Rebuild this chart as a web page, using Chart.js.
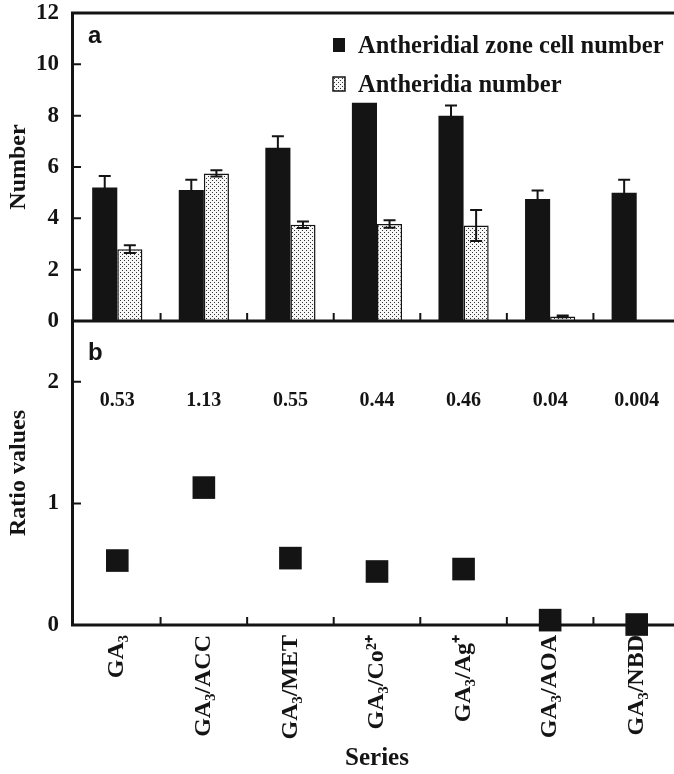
<!DOCTYPE html>
<html>
<head>
<meta charset="utf-8">
<script src="https://cdn.jsdelivr.net/npm/chart.js@4.4.1/dist/chart.umd.min.js"></script>
<style>
  html, body { margin: 0; padding: 0; overflow: hidden; background: #fff; width: 674px; height: 774px; }
  #wrap { position: relative; width: 696px; height: 774px; }
  #top { position: absolute; left: 0; top: 0; }
  #bottom { position: absolute; left: 0; top: 300px; }
</style>
</head>
<body>
<div id="wrap">
  <canvas id="top" width="684" height="340"></canvas>
  <canvas id="bottom" width="696" height="474"></canvas>
</div>
<script>
// data
const categories = ['GA₃', 'GA₃/ACC', 'GA₃/MET', 'GA₃/Co²⁺', 'GA₃/Ag⁺', 'GA₃/AOA', 'GA₃/NBD'];
const zoneCells = [5.2, 5.1, 6.75, 8.5, 8.0, 4.75, 5.0];
const zoneCellsErr = [0.45, 0.4, 0.45, 0, 0.4, 0.33, 0.5];
const antheridia = [2.8, 5.75, 3.75, 3.78, 3.72, 0.18, 0.02];
const antheridiaErr = [0.15, 0.12, 0.13, 0.15, 0.6, 0.03, 0];
const ratios = [0.53, 1.13, 0.55, 0.44, 0.46, 0.04, 0.004];
const ratioLabels = ['0.53', '1.13', '0.55', '0.44', '0.46', '0.04', '0.004'];
const numberTicks = [0, 2, 4, 6, 8, 10, 12];
const ratioTicks = [0, 1, 2];

const serif = "'Liberation Serif', 'Times New Roman', serif";
const sans = "'Liberation Sans', Arial, sans-serif";
const dark = '#141414';

Chart.defaults.font.family = serif;
Chart.defaults.font.weight = 'bold';
Chart.defaults.color = dark;

function dotPattern(ctx) {
  const c = document.createElement('canvas');
  c.width = 4; c.height = 4;
  const g = c.getContext('2d');
  g.fillStyle = '#f7f7f7';
  g.fillRect(0, 0, 4, 4);
  g.fillStyle = '#333';
  g.fillRect(0, 0, 1, 1);
  g.fillRect(2, 2, 1, 1);
  return ctx.createPattern(c, 'repeat');
}

// keep the plot areas where the figure has them
function fixY(s) {
  s.width = 74;
  s.paddingTop = 0;
  s.paddingBottom = 0;
}

// axis lines, inward ticks, panel letter
const framePlugin = {
  id: 'frame',
  afterDraw(chart, args, opts) {
    const { ctx, chartArea: a, scales } = chart;
    ctx.save();
    ctx.strokeStyle = dark;
    ctx.lineWidth = 3;
    ctx.beginPath();
    if (opts.top) {
      ctx.moveTo(chart.width, a.top);
      ctx.lineTo(a.left - 1.5, a.top);
    } else {
      ctx.moveTo(a.left - 1.5, a.top);
    }
    ctx.lineTo(a.left - 1.5, a.bottom);
    ctx.lineTo(chart.width, a.bottom);
    ctx.stroke();

    ctx.lineWidth = 2;
    ctx.beginPath();
    scales.y.ticks.forEach(t => {
      if (t.value === 0) return;
      const y = scales.y.getPixelForValue(t.value);
      ctx.moveTo(a.left, y);
      ctx.lineTo(a.left + 7, y);
    });
    const half = (scales.x.getPixelForValue(1) - scales.x.getPixelForValue(0)) / 2;
    for (let i = 0; i < categories.length; i++) {
      const x = scales.x.getPixelForValue(i) + half;
      ctx.moveTo(x, a.bottom);
      ctx.lineTo(x, a.bottom - 8);
    }
    ctx.stroke();

    ctx.fillStyle = dark;
    ctx.font = 'bold 24px ' + sans;
    ctx.textAlign = 'left';
    ctx.textBaseline = 'alphabetic';
    ctx.fillText(opts.letter, a.left + 14, a.top + opts.dy);
    ctx.restore();
  }
};

const errorPlugin = {
  id: 'errorBars',
  afterDatasetsDraw(chart) {
    const { ctx, scales } = chart;
    ctx.save();
    ctx.strokeStyle = dark;
    ctx.lineWidth = 2;
    chart.data.datasets.forEach((ds, i) => {
      chart.getDatasetMeta(i).data.forEach((bar, j) => {
        const e = ds.errors[j];
        if (!e) return;
        const yTop = scales.y.getPixelForValue(ds.data[j] + e);
        const yBot = scales.y.getPixelForValue(ds.data[j] - e);
        ctx.beginPath();
        ctx.moveTo(bar.x, yBot);
        ctx.lineTo(bar.x, yTop);
        ctx.moveTo(bar.x - 6, yTop);
        ctx.lineTo(bar.x + 6, yTop);
        ctx.moveTo(bar.x - 6, yBot);
        ctx.lineTo(bar.x + 6, yBot);
        ctx.stroke();
      });
    });
    ctx.restore();
  }
};

const legendPlugin = {
  id: 'boxLegend',
  afterDraw(chart) {
    const { ctx } = chart;
    ctx.save();
    ctx.font = 'bold 24.5px ' + serif;
    ctx.textBaseline = 'alphabetic';
    chart.data.datasets.forEach((ds, i) => {
      const y = 53 + i * 39;
      ctx.fillStyle = ds.backgroundColor;
      ctx.fillRect(333, y - 15, 12, 14);
      if (ds.borderWidth) {
        ctx.strokeStyle = dark;
        ctx.lineWidth = 1.5;
        ctx.strokeRect(333, y - 15, 12, 14);
      }
      ctx.fillStyle = dark;
      ctx.fillText(ds.label, 358, y);
    });
    ctx.restore();
  }
};

const ratioTextPlugin = {
  id: 'ratioText',
  afterDraw(chart) {
    const { ctx, scales } = chart;
    ctx.save();
    ctx.font = 'bold 20px ' + serif;
    ctx.fillStyle = dark;
    ctx.textAlign = 'center';
    ctx.textBaseline = 'middle';
    const y = scales.y.getPixelForValue(1.84);
    ratioLabels.forEach((t, i) => ctx.fillText(t, scales.x.getPixelForValue(i), y));
    ctx.restore();
  }
};

const topCanvas = document.getElementById('top');
const dots = dotPattern(topCanvas.getContext('2d'));

const yTickFont = { family: serif, size: 23, weight: 'bold' };
const titleFont = { family: serif, size: 24, weight: 'bold' };

new Chart(topCanvas, {
  type: 'bar',
  data: {
    labels: categories,
    datasets: [
      { label: 'Antheridial zone cell number', data: zoneCells, errors: zoneCellsErr,
        backgroundColor: dark, borderWidth: 0 },
      { label: 'Antheridia number', data: antheridia, errors: antheridiaErr,
        backgroundColor: dots, borderColor: dark, borderWidth: 1.5 }
    ]
  },
  options: {
    responsive: false,
    animation: false,
    layout: { padding: { left: 0, top: 13, right: 4, bottom: 19 } },
    datasets: { bar: { categoryPercentage: 0.58, barPercentage: 1 } },
    plugins: {
      legend: { display: false },
      tooltip: { enabled: false },
      frame: { top: true, letter: 'a', dy: 30 }
    },
    scales: {
      x: { display: false, offset: true },
      y: {
        min: 0, max: 12,
        afterBuildTicks: s => { s.ticks = numberTicks.map(v => ({ value: v })); },
        afterFit: fixY,
        grid: { display: false, drawTicks: false },
        border: { display: false },
        ticks: { padding: 15, font: yTickFont, color: dark },
        title: { display: true, text: 'Number', font: titleFont, color: dark, padding: { top: 4, bottom: 4 } }
      }
    }
  },
  plugins: [framePlugin, errorPlugin, legendPlugin]
});

// wider canvas: the square markers reserve 16px on each side of the plot area
new Chart(document.getElementById('bottom'), {
  type: 'line',
  data: {
    labels: categories,
    datasets: [{
      label: 'Ratio values',
      data: ratios,
      showLine: false,
      pointStyle: 'rect',
      pointRadius: 16,
      pointBackgroundColor: dark,
      pointBorderWidth: 0,
      clip: false
    }]
  },
  options: {
    responsive: false,
    animation: false,
    layout: { padding: { left: 0, top: 21, right: 16, bottom: 0 } },
    plugins: {
      legend: { display: false },
      tooltip: { enabled: false },
      frame: { top: false, letter: 'b', dy: 39 }
    },
    scales: {
      x: {
        type: 'category',
        offset: true,
        afterFit: s => { s.height = 149; s.paddingLeft = 0; s.paddingRight = 0; },
        grid: { display: false, drawTicks: false },
        border: { display: false },
        ticks: { minRotation: 90, maxRotation: 90, autoSkip: false, padding: 10,
                 font: { family: serif, size: 24, weight: 'bold' }, color: dark },
        title: { display: true, text: 'Series', font: { family: serif, size: 25, weight: 'bold' },
                 color: dark, padding: { top: 0, bottom: 0 } }
      },
      y: {
        min: 0, max: 2.5,
        afterBuildTicks: s => { s.ticks = ratioTicks.map(v => ({ value: v })); },
        afterFit: fixY,
        grid: { display: false, drawTicks: false },
        border: { display: false },
        ticks: { padding: 15, font: yTickFont, color: dark },
        title: { display: true, text: 'Ratio values', font: titleFont, color: dark, padding: { top: 4, bottom: 4 } }
      }
    }
  },
  plugins: [framePlugin, ratioTextPlugin]
});
</script>
</body>
</html>
